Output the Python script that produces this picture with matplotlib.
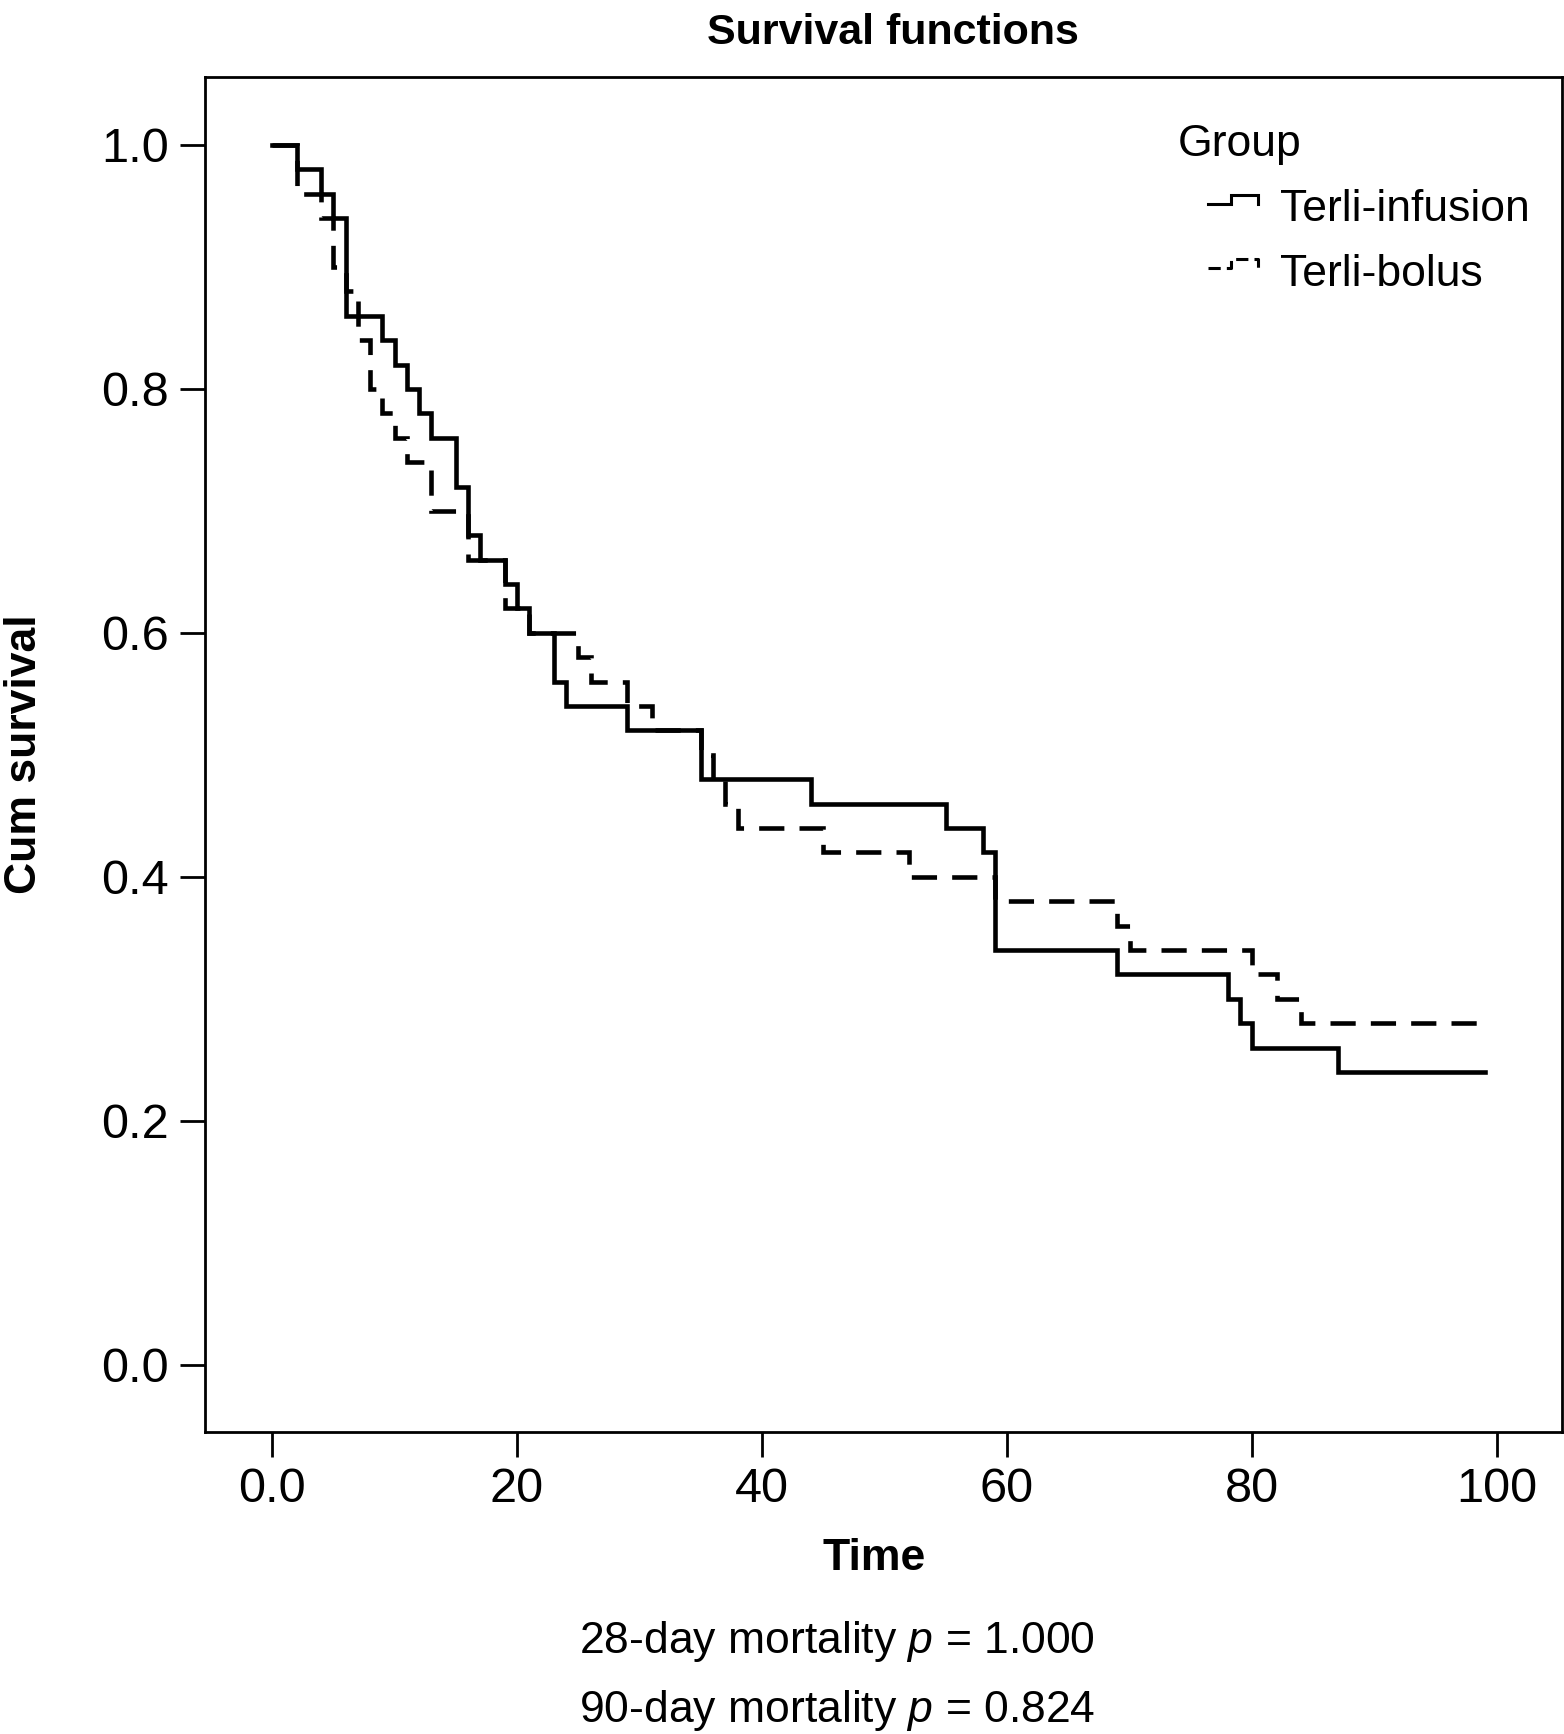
import matplotlib
matplotlib.use("Agg")
import numpy as np
import matplotlib.pyplot as plt
from matplotlib.lines import Line2D
from matplotlib.legend_handler import HandlerBase

# Kaplan-Meier steps (time, cum survival)
infusion_time = [0, 2, 4, 5, 6, 9, 10, 11, 12, 13, 15, 16, 17, 19, 20, 21, 23, 24,
                 29, 35, 44, 55, 58, 59, 69, 78, 79, 80, 87, 99]
infusion_surv = [1.00, 0.98, 0.96, 0.94, 0.86, 0.84, 0.82, 0.80, 0.78, 0.76, 0.72,
                 0.68, 0.66, 0.64, 0.62, 0.60, 0.56, 0.54, 0.52, 0.48, 0.46, 0.44,
                 0.42, 0.34, 0.32, 0.30, 0.28, 0.26, 0.24, 0.24]
bolus_time = [0, 2, 4, 5, 6, 7, 8, 9, 10, 11, 13, 16, 19, 21, 25, 26, 29, 31, 35,
              36, 37, 38, 45, 52, 59, 69, 70, 80, 82, 84, 99]
bolus_surv = [1.00, 0.96, 0.94, 0.90, 0.88, 0.84, 0.80, 0.78, 0.76, 0.74, 0.70,
              0.66, 0.62, 0.60, 0.58, 0.56, 0.54, 0.52, 0.50, 0.48, 0.46, 0.44,
              0.42, 0.40, 0.38, 0.36, 0.34, 0.32, 0.30, 0.28, 0.28]
group_labels = ['Terli-infusion', 'Terli-bolus']
x_ticks = [0, 20, 40, 60, 80, 100]
x_ticklabels = ['0.0', '20', '40', '60', '80', '100']
y_ticks = [0.0, 0.2, 0.4, 0.6, 0.8, 1.0]
notes = ['28-day mortality $p$ = 1.000', '90-day mortality $p$ = 0.824']

font = 'Liberation Sans'
plt.rcParams['font.family'] = [font, 'DejaVu Sans']
plt.rcParams['mathtext.fontset'] = 'custom'
plt.rcParams['mathtext.rm'] = font
plt.rcParams['mathtext.it'] = font + ':italic'


class StepHandler(HandlerBase):
    # little step glyph like the SPSS legend
    def create_artists(self, legend, orig_handle, xdescent, ydescent,
                       width, height, fontsize, trans):
        x0 = -xdescent + 0.38 * width
        w = 0.62 * width
        y0 = -ydescent
        xs = [x0, x0 + 0.45 * w, x0 + 0.45 * w, x0 + w, x0 + w]
        ys = [y0 + 0.55 * height, y0 + 0.55 * height, y0 + 0.85 * height,
              y0 + 0.85 * height, y0 + 0.55 * height]
        ls = '-' if orig_handle.get_linestyle() == '-' else (0, (4, 2))
        line = Line2D(xs, ys, color='black', lw=2.2, linestyle=ls,
                      solid_joinstyle='miter', dash_capstyle='butt')
        line.set_transform(trans)
        return [line]


fig = plt.figure(figsize=(15.64, 17.34), dpi=100)
ax = fig.add_axes([205/1564, 1-1432/1734, 1357/1564, 1355/1734])

h2, = ax.step(bolus_time, bolus_surv, where='post', color='black', lw=3.3,
              linestyle=(0, (5.5, 3.3)), dash_capstyle='butt', dash_joinstyle='miter')
h1, = ax.step(infusion_time, infusion_surv, where='post', color='black', lw=3.3,
              solid_joinstyle='miter')

ax.set_xlim(-5.47, 105.3)
ax.set_ylim(-0.0551, 1.0557)
ax.set_xticks(x_ticks)
ax.set_xticklabels(x_ticklabels)
ax.set_yticks(y_ticks)
ax.set_yticklabels(['%.1f' % v for v in y_ticks])
ax.tick_params(direction='out', length=18, width=2, labelsize=35, pad=7)
ax.tick_params(axis='y', pad=8)
for s in ax.spines.values():
    s.set_linewidth(2)

ax.set_xlabel('Time', fontsize=32, fontweight='bold')
ax.xaxis.set_label_coords(0.493, -0.078)
ax.set_ylabel('Cum survival', fontsize=32, fontweight='bold')
ax.yaxis.set_label_coords(-0.118, 0.5)

leg = ax.legend([h1, h2], group_labels, title='Group', loc='upper left',
                bbox_to_anchor=(0.717, 0.965), frameon=False, fontsize=32,
                title_fontsize=32, alignment='left', borderpad=0,
                borderaxespad=0, handlelength=1.8, handletextpad=0.5,
                labelspacing=0.53, handler_map={Line2D: StepHandler()})

fig.text(0.571, 0.9746, 'Survival functions', ha='center', va='baseline',
         fontsize=31, fontweight='bold')
fig.text(0.535, 0.0467, notes[0], ha='center', va='baseline', fontsize=32)
fig.text(0.535, 0.0069, notes[1], ha='center', va='baseline', fontsize=32)

plt.savefig('out.png', dpi=100)
